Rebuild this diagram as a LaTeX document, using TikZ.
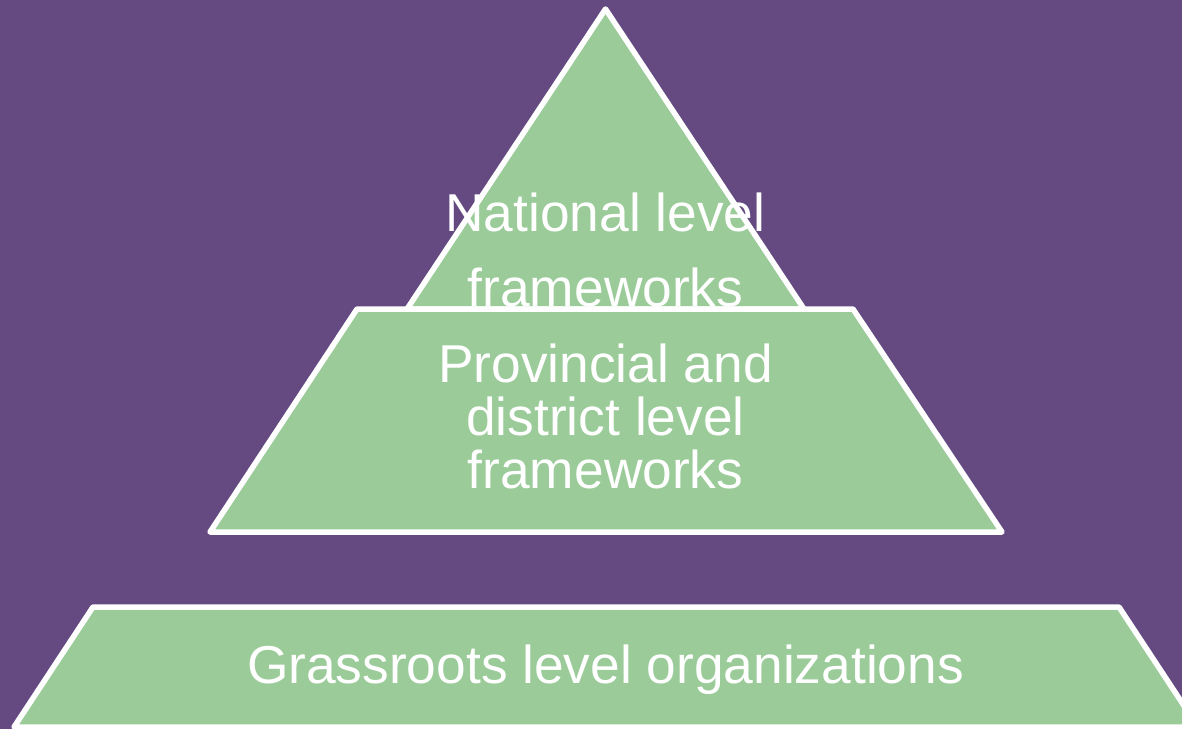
\documentclass[tikz,border=0pt]{standalone}
\usepackage{fontspec}
\setmainfont{Liberation Sans}
\definecolor{bgpurple}{HTML}{654A82}
\definecolor{tiergreen}{HTML}{9ACB99}
\begin{document}
\begin{tikzpicture}[x=1pt,y=-1pt,
  tier/.style={fill=tiergreen,draw=white,line width=5.5pt,line join=round},
  label/.style={text=white,align=center,inner sep=0pt,anchor=base}]
% background
\fill[bgpurple] (0,0) rectangle (1182,729);
\useasboundingbox (0,0) rectangle (1182,729);
\begin{scope}
\clip (0,0) rectangle (1182,729);
% top tier and its label (the middle tier is laid over its lower edge)
\draw[tier] (605.5,9) -- (804,309) -- (407,309) -- cycle;
\node[label,font=\fontsize{53.3}{75}\selectfont] (national) at (605.5,306) {National level\\frameworks};
% middle tier
\draw[tier] (357,309) -- (853,309) -- (1002,532) -- (210,532) -- cycle;
% bottom tier
\draw[tier] (93,607) -- (1119,607) -- (1198,727) -- (14,727) -- cycle;
\end{scope}
% labels (anchored at the baseline of their last line)
\node[label,font=\fontsize{53.3}{53}\selectfont] (provincial) at (605.5,488) {Provincial and\\district level\\frameworks};
\node[label,font=\fontsize{53.3}{53}\selectfont] (grassroots) at (605.5,683) {Grassroots level organizations};
\end{tikzpicture}
\end{document}
